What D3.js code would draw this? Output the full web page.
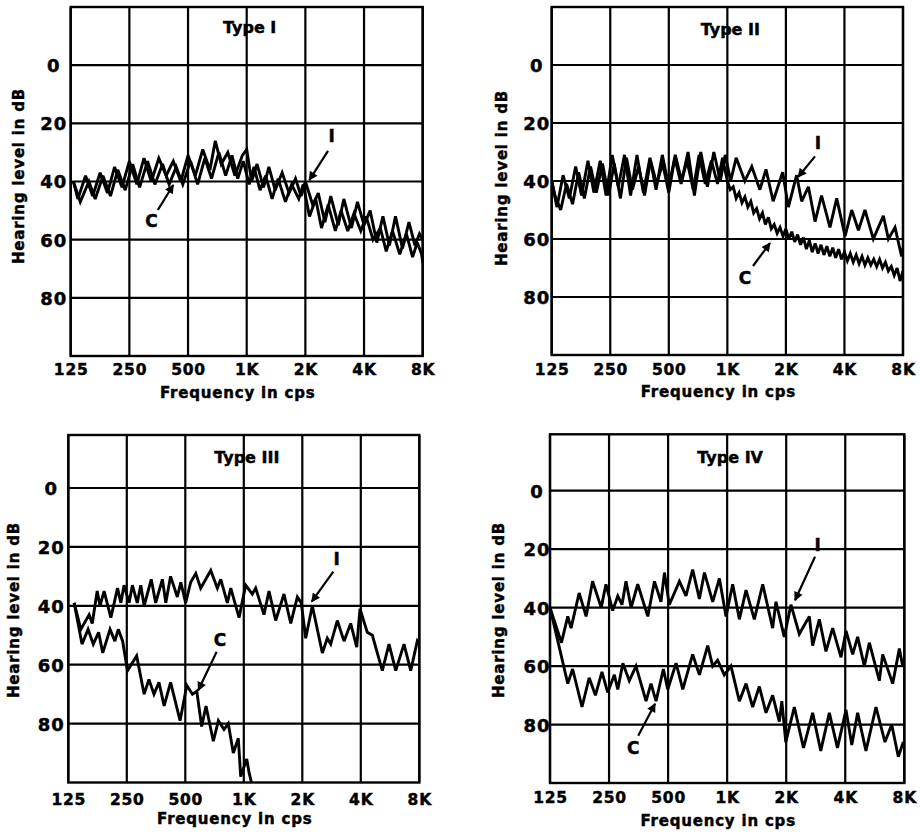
<!DOCTYPE html>
<html><head><meta charset="utf-8">
<script src="https://cdn.jsdelivr.net/npm/d3@7"></script>
<style>
body{margin:0;background:#fff}
text{font-family:"DejaVu Sans",sans-serif;font-weight:bold;fill:#000;stroke:#000;stroke-width:0.45px}
</style>
</head><body>
<svg id="chart" width="920" height="836"></svg>
<script>
// ---------------- DATA ----------------
const xTickValues = [125, 250, 500, 1000, 2000, 4000, 8000];
const xTickLabels = ["125", "250", "500", "1K", "2K", "4K", "8K"];
const yTickValues = [0, 20, 40, 60, 80];
const panelTitles = ["Type I", "Type II", "Type III", "Type IV"];
const xAxisTitle = "Frequency in cps";
const yAxisTitle = "Hearing level in dB";

// [frequency Hz, hearing level dB]
const type1I = [[129,40],[136,46],[149,38],[162,45],[177,37],[193,44],[210,35],[229,42],[250,33],[273,41],[297,32],[324,40],[354,32],[386,38],[420,33],[459,40],[500,31],[545,38],[595,29],[648,36],[690,26],[740,34],[800,30],[870,38],[950,31],[1000,29],[1060,40],[1130,34],[1220,42],[1300,35],[1400,43],[1520,37],[1650,44],[1780,39],[1900,45],[2000,40],[2180,48],[2330,44],[2520,54],[2700,45],[2950,55],[3150,46],[3450,56],[3700,47],[4000,55],[4300,50],[4650,61],[5000,52],[5400,62],[5800,52],[6300,63],[6800,54],[7300,62],[7700,58],[8000,60]];
const type1C = [[129,40],[140,47],[155,40],[167,46],[183,38],[200,45],[218,36],[238,43],[260,34],[282,42],[310,33],[338,41],[370,34],[400,41],[435,35],[470,41],[515,33],[560,41],[610,32],[660,39],[720,30],[780,38],[840,31],[900,39],[960,33],[1030,41],[1090,35],[1170,43],[1250,38],[1350,46],[1450,39],[1580,47],[1700,41],[1850,46],[1950,41],[2100,52],[2260,46],[2420,56],[2620,48],[2850,57],[3050,50],[3300,57],[3550,51],[3850,57],[4100,52],[4450,60],[4850,56],[5200,64],[5600,57],[6100,65],[6600,58],[7100,66],[7500,61],[7900,65],[8000,68]];

const type2I = [[125,40],[133,49],[143,38],[154,46],[166,35],[178,45],[192,33],[206,44],[222,33],[238,45],[256,31],[275,42],[296,31],[318,45],[343,31],[370,44],[400,32],[430,43],[463,31],[500,42],[540,31],[582,40],[628,30],[677,45],[730,30],[790,42],[852,30],[920,40],[975,31],[1040,40],[1110,32],[1230,40],[1335,35],[1470,43],[1580,36],[1720,47],[1925,37],[2060,49],[2270,38],[2410,47],[2610,42],[2825,54],[3050,45],[3370,56],[3650,46],[4030,59],[4360,50],[4720,57],[5100,50],[5630,60],[6340,52],[6730,60],[7280,56],[7870,66],[8000,63]];
const type2C = [[125,40],[130,45],[139,50],[149,41],[160,48],[172,37],[184,46],[198,35],[212,44],[228,34],[245,45],[262,34],[282,46],[303,32],[325,43],[350,35],[375,45],[403,33],[433,41],[465,34],[500,44],[537,32],[578,41],[620,33],[668,43],[715,31],[770,41],[828,33],[890,41],[945,32],[1000,40],[1035,43],[1072,42],[1110,46],[1149,44],[1189,47.5],[1231,45.5],[1275,49],[1320,47],[1366,51],[1414,49.5],[1464,53],[1516,51],[1569,55],[1625,52.5],[1682,56.5],[1741,55],[1803,58],[1866,56],[1932,59],[2000,56.5],[2071,60],[2144,57.5],[2219,61],[2297,58.5],[2378,62],[2462,59.5],[2549,63.5],[2639,60.5],[2732,64.5],[2828,61.5],[2928,65],[3031,62],[3138,65.5],[3249,62.5],[3364,66],[3482,63],[3605,66.5],[3732,63.5],[3864,67],[4000,64.5],[4141,67.5],[4287,65],[4438,68],[4595,65.5],[4757,68.5],[4925,66],[5098,69],[5278,66.5],[5464,69],[5657,67],[5856,69.5],[6063,67],[6277,70],[6498,68],[6727,71],[6964,69.5],[7210,72.5],[7464,70],[7727,74.5],[8000,71]];

const type3I = [[134,39],[145,48],[160,43],[166,46],[176,35],[182,40],[191,35],[207,44],[224,34],[233,39],[242,33],[257,39],[267,33],[283,39],[295,33],[307,40],[334,31],[352,39],[381,31],[397,39],[420,30],[455,37],[474,32],[502,39],[533,32],[566,29],[600,34],[676,28],[731,34],[761,31],[823,39],[857,34],[945,44],[1023,33],[1106,36],[1151,34],[1270,43],[1348,35],[1459,45],[1610,36],[1744,46],[1886,37],[1976,39],[2082,51],[2252,40],[2536,56],[2689,51],[2800,53],[3028,45],[3279,52],[3548,46],[3810,54],[3961,41],[4320,49],[4585,50],[5163,62],[5588,53],[6052,62],[6673,53],[7226,62],[7812,52],[8000,53]];
const type3C = [[134,39],[147,53],[158,48],[168,53],[179,49],[188,56],[205,48],[217,52],[226,48],[238,52],[252,62],[281,57],[307,70],[325,65],[345,70],[366,66],[389,74],[420,66],[470,79],[509,67],[544,70],[573,69],[607,81],[639,74],[697,86],[740,79],[791,82],[832,80],[883,90],[937,85],[964,98],[1035,92],[1067,97],[1105,101]];

const type4I = [[125,40],[143,52],[154,43],[160,47],[176,35],[191,43],[206,31],[228,40],[241,32],[261,41],[277,36],[291,39],[305,31],[324,40],[350,32],[394,43],[426,31],[460,38],[479,28],[507,39],[571,31],[617,36],[667,27],[722,37],[766,28],[844,38],[913,30],[987,43],[1067,32],[1154,44],[1248,34],[1376,44],[1518,32],[1706,47],[1774,38],[1955,50],[2115,39],[2332,49],[2624,43],[2728,53],[2951,44],[3190,55],[3450,47],[3805,57],[4036,48],[4365,56],[4626,50],[5005,60],[5307,52],[5968,65],[6208,56],[6981,66],[7548,54],[7848,60],[8000,58]];
const type4C = [[125,40],[154,66],[163,61],[182,74],[198,64],[213,70],[230,62],[246,69],[266,63],[277,68],[294,59],[317,65],[343,60],[386,72],[409,66],[434,72],[473,61],[498,68],[549,59],[594,68],[667,56],[722,63],[796,53],[844,60],[894,58],[967,63],[1046,60],[1154,72],[1248,66],[1349,74],[1459,67],[1578,76],[1706,70],[1845,79],[1900,72],[1990,86],[2200,74],[2450,88],[2728,76],[3000,89],[3318,76],[3650,88],[4036,75],[4320,87],[4626,76],[5100,89],[5738,74],[6375,86],[6902,80],[7456,91],[7907,86]];

// annotation arrows: label position, arrow tail, arrow head (Hz, dB)
const notes1 = [
  {text:"I", label:[2730,26.5], tail:[2614,29.5], head:[2095,39.5]},
  {text:"C", label:[325,55.5], tail:[350,49.8], head:[420,41.2]}
];
const notes2 = [
  {text:"I", label:[2925,29], tail:[2823,31.5], head:[2310,38.6]},
  {text:"C", label:[1233,75.5], tail:[1355,69.3], head:[1657,61.4]}
];
const notes3 = [
  {text:"I", label:[3007,26], tail:[2888,28.4], head:[2236,38.6]},
  {text:"C", label:[754,53.5], tail:[725,55.6], head:[583,68.7]}
];
const notes4 = [
  {text:"I", label:[2895,20.5], tail:[2805,22.6], head:[2218,37.5]},
  {text:"C", label:[332,90], tail:[352,83.8], head:[429,72.9]}
];

// ---------------- LAYOUT ----------------
const layout = [
  {left:70.7, right:422.7, top:7,     bottom:356,   dbTop:-20,   titleY:33,  tickY:375, tickDX:17, xTitleY:398, yTitleX:24,  yTitleY:176},
  {left:551.7,right:903,   top:7,     bottom:355,   dbTop:-20,   titleY:35,  tickY:375, tickDX:15, xTitleY:397, yTitleX:507, yTitleY:178},
  {left:68.3, right:419.3, top:435,   bottom:782.5, dbTop:-18,   titleY:463, tickY:805, tickDX:17, xTitleY:824, yTitleX:19,  yTitleY:610},
  {left:550,  right:904.3, top:434.3, bottom:783,   dbTop:-19.3, titleY:463, tickY:803, tickDX:13, xTitleY:826, yTitleX:504, yTitleY:610}
];

const panels = [
  {title:panelTitles[0], curves:[type1I, type1C], notes:notes1},
  {title:panelTitles[1], curves:[type2I, type2C], notes:notes2},
  {title:panelTitles[2], curves:[type3I, type3C], notes:notes3},
  {title:panelTitles[3], curves:[type4I, type4C], notes:notes4}
];

// ---------------- DRAW ----------------
const svg = d3.select("#chart");
const defs = svg.append("defs");
defs.append("marker").attr("id","arrow")
  .attr("viewBox","0 0 10 10").attr("refX",9).attr("refY",5)
  .attr("markerUnits","userSpaceOnUse").attr("markerWidth",11).attr("markerHeight",9)
  .attr("orient","auto")
  .append("path").attr("d","M0,0 L10,5 L0,10 z").attr("fill","#000");

panels.forEach((p, i) => {
  const L = layout[i];
  const x = d3.scaleLog().domain([125, 8000]).range([L.left, L.right]);
  const y = d3.scaleLinear().domain([L.dbTop, 100]).range([L.top, L.bottom]);
  const g = svg.append("g");

  defs.append("clipPath").attr("id","clip"+i)
    .append("rect").attr("x",L.left).attr("y",L.top)
    .attr("width",L.right-L.left).attr("height",L.bottom-L.top);

  // grid
  g.append("g").selectAll("line").data(xTickValues).join("line")
    .attr("x1",d=>x(d)).attr("x2",d=>x(d)).attr("y1",L.top).attr("y2",L.bottom)
    .attr("stroke","#000").attr("stroke-width",2.2);
  g.append("g").selectAll("line").data(yTickValues).join("line")
    .attr("x1",L.left).attr("x2",L.right).attr("y1",d=>y(d)).attr("y2",d=>y(d))
    .attr("stroke","#000").attr("stroke-width",2.2);
  g.append("rect").attr("x",L.left).attr("y",L.top)
    .attr("width",L.right-L.left).attr("height",L.bottom-L.top)
    .attr("fill","none").attr("stroke","#000").attr("stroke-width",2.4);

  // axes
  const xa = g.append("g").attr("transform",`translate(0,${L.tickY})`)
    .call(d3.axisBottom(x).tickValues(xTickValues).tickFormat((d,k)=>xTickLabels[k]).tickSize(0));
  xa.select(".domain").remove();
  xa.selectAll("text").attr("y",0).attr("dy",0)
    .style("font-size","15.5px").style("letter-spacing","0.8px")
    .style("font-family","'DejaVu Sans',sans-serif").style("font-weight","bold")
    .attr("fill","#000").attr("stroke","#000").attr("stroke-width",0.45);

  const ya = g.append("g").attr("transform",`translate(${L.left - L.tickDX},0)`)
    .call(d3.axisLeft(y).tickValues(yTickValues).tickFormat(d3.format("d")).tickSize(0));
  ya.select(".domain").remove();
  ya.selectAll("text").attr("x",0).attr("dy","0.36em").attr("text-anchor","middle")
    .style("font-size","18px").style("letter-spacing","1px")
    .style("font-family","'DejaVu Sans',sans-serif").style("font-weight","bold")
    .attr("fill","#000").attr("stroke","#000").attr("stroke-width",0.45);

  // titles
  g.append("text").attr("x",x(1000)+3).attr("y",L.titleY).attr("text-anchor","middle")
    .style("font-size","16px").text(p.title);
  g.append("text").attr("x",x(1000) - 9).attr("y",L.xTitleY).attr("text-anchor","middle")
    .style("font-size","15px").style("letter-spacing","0.8px").text(xAxisTitle);
  g.append("text").attr("transform",`translate(${L.yTitleX},${L.yTitleY}) rotate(-90)`)
    .attr("text-anchor","middle").style("font-size","15px").style("letter-spacing","0.8px").text(yAxisTitle);

  // curves
  const line = d3.line().x(d=>x(d[0])).y(d=>y(d[1]));
  g.append("g").attr("clip-path",`url(#clip${i})`).selectAll("path").data(p.curves).join("path")
    .attr("d",line).attr("fill","none").attr("stroke","#000")
    .attr("stroke-width",2.9).attr("stroke-linejoin","miter").attr("stroke-miterlimit",3);

  // annotations
  p.notes.forEach(n => {
    g.append("line").attr("x1",x(n.tail[0])).attr("y1",y(n.tail[1]))
      .attr("x2",x(n.head[0])).attr("y2",y(n.head[1]))
      .attr("stroke","#000").attr("stroke-width",2.2).attr("marker-end","url(#arrow)");
    g.append("text").attr("x",x(n.label[0])).attr("y",y(n.label[1])).attr("text-anchor","middle")
      .style("font-size","17px").text(n.text);
  });
});
</script>
</body></html>
